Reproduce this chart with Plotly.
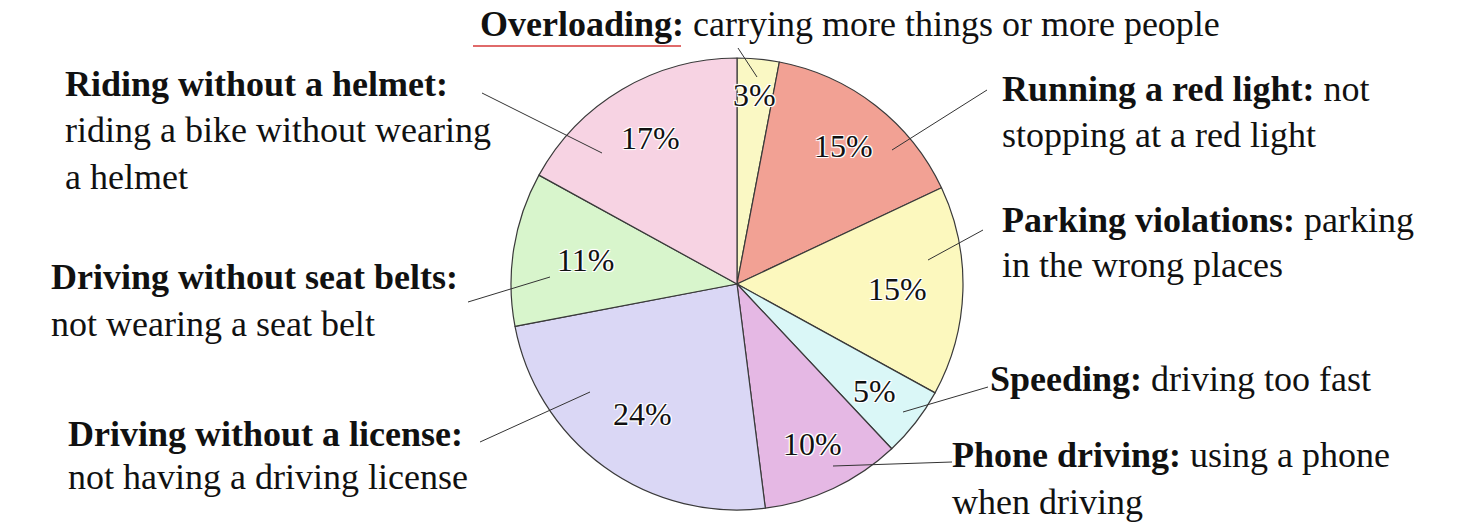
import math
import plotly.graph_objects as go

W, H = 1479, 526

categories = ["Overloading", "Running a red light", "Parking violations", "Speeding",
              "Phone driving", "Driving without a license", "Driving without seat belts",
              "Riding without a helmet"]
values = [3, 15, 15, 5, 10, 24, 11, 17]
colors = ["#FAF8C4", "#F2A194", "#FCF8BE", "#DAF7F7", "#E5B8E4", "#DAD7F5", "#D8F5CC", "#F7D3E3"]

# label text lines: (bold part, rest) per line
label_lines = [
    [("Overloading:", " carrying more things or more people")],
    [("Running a red light:", " not"), ("", "stopping at a red light")],
    [("Parking violations:", " parking"), ("", "in the wrong places")],
    [("Speeding:", " driving too fast")],
    [("Phone driving:", " using a phone"), ("", "when driving")],
    [("Driving without a license:", ""), ("", "not having a driving license")],
    [("Driving without seat belts:", ""), ("", "not wearing a seat belt")],
    [("Riding without a helmet:", ""), ("", "riding a bike without wearing"), ("", "a helmet")],
]
# layout positions in pixels: left x, center y of each line
label_pos = [
    (478, [24]),
    (1000, [89, 135]),
    (1000, [220, 265]),
    (988, [379]),
    (950, [455, 502]),
    (66, [434, 477]),
    (49, [277, 324]),
    (63, [84, 130, 177]),
]
# leader lines (label end -> point in slice), pixels
leaders = [
    ((738, 48), (757, 77)),
    ((987, 90), (892, 150)),
    ((983, 230), (928, 260)),
    ((988, 387), (903, 412)),
    ((952, 462), (833, 466)),
    ((480, 442), (590, 392)),
    ((468, 302), (550, 277)),
    ((482, 93), (602, 153)),
]
# radial placement of percentage labels (fraction of radius)
pct_radius = [0.84, 0.77, 0.71, 0.77, 0.78, 0.71, 0.68, 0.75]

# pie geometry in pixels
CX, CY, R = 737, 284, 226


def px(x):
    return x / W


def py(y):
    return 1 - y / H


FONT = "Liberation Serif, Times New Roman, serif"
HALO = "1px 1px 0px white, -1px -1px 0px white, 1px -1px 0px white, -1px 1px 0px white, 0px 0px 3px white"

fig = go.Figure(go.Pie(
    labels=categories,
    values=values,
    sort=False,
    direction="clockwise",
    rotation=0,
    marker=dict(colors=colors, line=dict(color="#3a3a3a", width=1.2)),
    textinfo="none",
    showlegend=False,
    hoverinfo="label+percent",
    domain=dict(x=[px(CX - R), px(CX + R)], y=[py(CY + R), py(CY - R)]),
))

annotations = []
for lines, (x0, ys) in zip(label_lines, label_pos):
    for (b, r), yc in zip(lines, ys):
        txt = (f"<b>{b}</b>" if b else "") + r
        annotations.append(dict(
            x=px(x0), y=py(yc), xref="paper", yref="paper",
            xanchor="left", yanchor="middle", showarrow=False,
            text=txt, font=dict(family=FONT, size=36, color="#111111"),
        ))

# percentage labels at each slice's mid angle
total = sum(values)
cum = 0
for v, frac in zip(values, pct_radius):
    mid = (cum + v / 2) / total * 2 * math.pi
    cum += v
    x = CX + R * frac * math.sin(mid)
    y = CY - R * frac * math.cos(mid)
    annotations.append(dict(
        x=px(x), y=py(y), xref="paper", yref="paper",
        xanchor="center", yanchor="middle", showarrow=False,
        text=f"{round(v / total * 100)}%",
        font=dict(family=FONT, size=32, color="#111111", shadow=HALO),
    ))

shapes = []
for (a, b) in leaders:
    shapes.append(dict(type="line", xref="paper", yref="paper",
                       x0=px(a[0]), y0=py(a[1]), x1=px(b[0]), y1=py(b[1]),
                       line=dict(color="#333333", width=1)))
# red underline under "Overloading:"
shapes.append(dict(type="line", xref="paper", yref="paper",
                   x0=px(473), y0=py(46), x1=px(681), y1=py(46),
                   line=dict(color="#E06A6A", width=2)))

fig.update_layout(
    width=W, height=H,
    margin=dict(l=0, r=0, t=0, b=0),
    paper_bgcolor="white", plot_bgcolor="white",
    annotations=annotations, shapes=shapes,
)

fig.write_html("out.html",
               config={"displayModeBar": False},
               post_script="document.body.style.margin='0';document.body.style.overflow='hidden';")
